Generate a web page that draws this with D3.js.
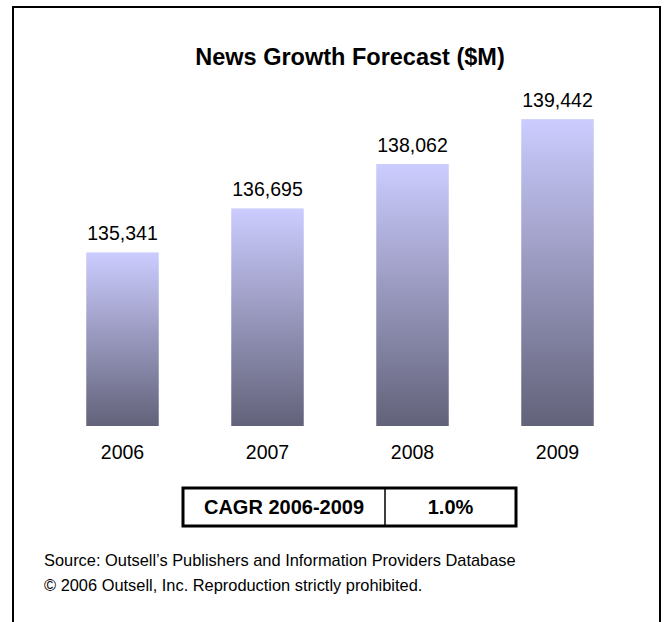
<!DOCTYPE html>
<html>
<head>
<meta charset="utf-8">
<script src="https://cdn.jsdelivr.net/npm/d3@7"></script>
<style>
  html, body { margin: 0; padding: 0; background: #fff; }
  svg { display: block; font-family: "Liberation Sans", Arial, sans-serif; }
</style>
</head>
<body>
<svg id="chart" width="667" height="622"></svg>
<script>
// News revenue forecast, $M
const years = ["2006", "2007", "2008", "2009"];
const revenue = [135341, 136695, 138062, 139442];
const cagrLabel = "CAGR 2006-2009";
const cagrValue = "1.0%";
const titleText = "News Growth Forecast ($M)";
const sourceLines = [
  "Source: Outsell\u2019s Publishers and Information Providers Database",
  "\u00A9 2006 Outsell, Inc. Reproduction strictly prohibited."
];

const svg = d3.select("#chart");

// gradient fill shared by every bar: light lavender at top to slate at the base
const defs = svg.append("defs");
const grad = defs.append("linearGradient")
  .attr("id", "barFill")
  .attr("x1", 0).attr("y1", 0).attr("x2", 0).attr("y2", 1);
grad.append("stop").attr("offset", "0%").attr("stop-color", "#ccccff");
grad.append("stop").attr("offset", "100%").attr("stop-color", "#62627a");

// outer frame (open at the bottom edge of the page)
svg.append("rect")
  .attr("x", 13).attr("y", 7)
  .attr("width", 647).attr("height", 640)
  .attr("fill", "none")
  .attr("stroke", "#000")
  .attr("stroke-width", 2);

// title
svg.append("text")
  .attr("x", 350).attr("y", 65)
  .attr("text-anchor", "middle")
  .attr("font-size", 23.5)
  .attr("font-weight", "bold")
  .text(titleText);

// scales
const x = d3.scaleBand()
  .domain(years)
  .range([50, 630])
  .paddingInner(0.5)
  .paddingOuter(0.25);

const y = d3.scaleLinear()
  .domain([130000, 140000])
  .range([426, 101]);

const data = years.map((yr, i) => ({ year: yr, value: revenue[i] }));

// bars
svg.append("g").selectAll("rect")
  .data(data)
  .join("rect")
  .attr("x", d => x(d.year))
  .attr("y", d => y(d.value))
  .attr("width", x.bandwidth())
  .attr("height", d => y.range()[0] - y(d.value))
  .attr("fill", "url(#barFill)");

// value labels
const fmt = d3.format(",");
svg.append("g").selectAll("text")
  .data(data)
  .join("text")
  .attr("x", d => x(d.year) + x.bandwidth() / 2)
  .attr("y", d => y(d.value) - 12)
  .attr("text-anchor", "middle")
  .attr("font-size", 19.5)
  .text(d => fmt(d.value));

// category axis (labels only, no line or ticks)
const xAxis = svg.append("g")
  .attr("transform", `translate(0, ${y.range()[0]})`)
  .call(d3.axisBottom(x).tickSize(0).tickPadding(0));
xAxis.select(".domain").remove();
xAxis.selectAll("text")
  .attr("dy", null)
  .attr("y", 33)
  .attr("font-size", 19.5)
  .attr("font-family", "\"Liberation Sans\", Arial, sans-serif")
  .attr("fill", "#000");

// CAGR box
const box = { x0: 183, x1: 516, y0: 488, y1: 526, split: 385 };
const tbl = svg.append("g");
tbl.append("line")
  .attr("x1", box.split).attr("x2", box.split)
  .attr("y1", box.y0).attr("y2", box.y1)
  .attr("stroke", "#000").attr("stroke-width", 1.5);
tbl.append("rect")
  .attr("x", box.x0).attr("y", box.y0)
  .attr("width", box.x1 - box.x0).attr("height", box.y1 - box.y0)
  .attr("fill", "none").attr("stroke", "#000").attr("stroke-width", 3);
tbl.selectAll("text.cell")
  .data([
    { text: cagrLabel, cx: (box.x0 + box.split) / 2 },
    { text: cagrValue, cx: (box.split + box.x1) / 2 }
  ])
  .join("text")
  .attr("class", "cell")
  .attr("x", d => d.cx).attr("y", 514)
  .attr("text-anchor", "middle")
  .attr("font-size", 20)
  .attr("font-weight", "bold")
  .text(d => d.text);

// source note
svg.append("g").selectAll("text")
  .data(sourceLines)
  .join("text")
  .attr("x", 44)
  .attr("y", (d, i) => 566 + i * 25)
  .attr("font-size", 16.4)
  .text(d => d);
</script>
</body>
</html>
